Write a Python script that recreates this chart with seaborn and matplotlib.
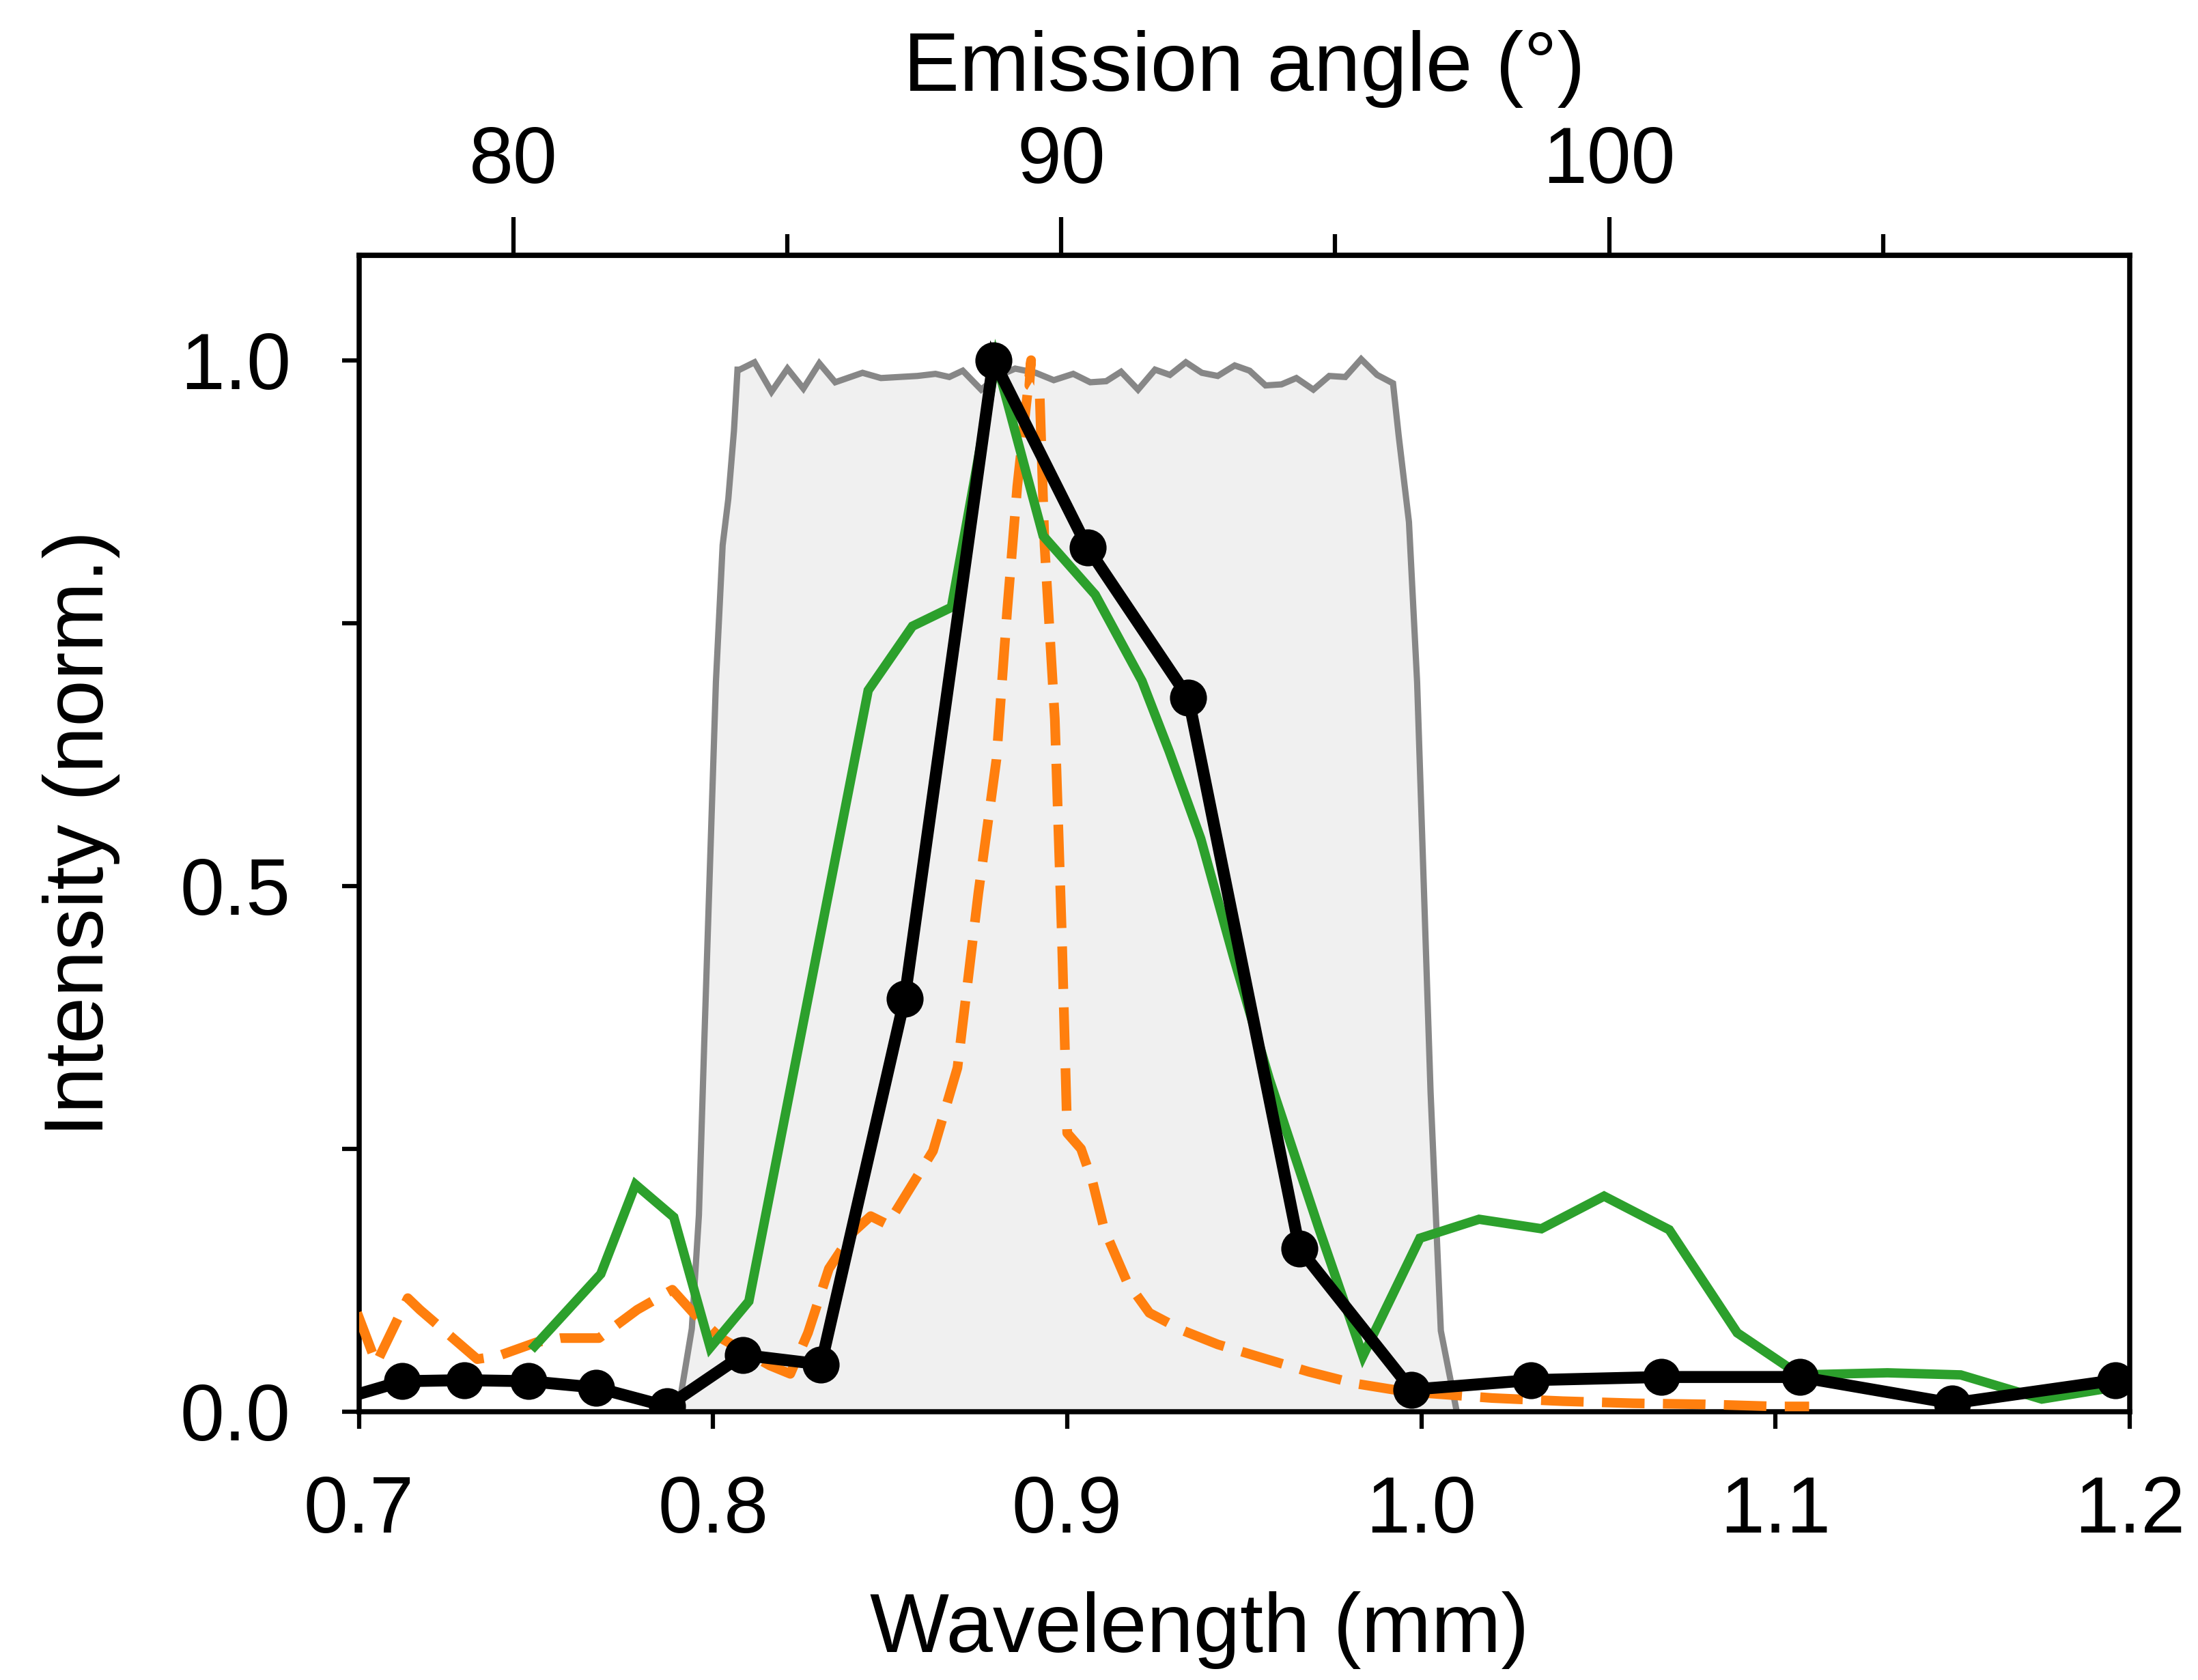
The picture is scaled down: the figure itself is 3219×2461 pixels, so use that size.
import matplotlib
matplotlib.use("Agg")
import matplotlib.pyplot as plt
import seaborn as sns
import numpy as np
import pandas as pd
from matplotlib.ticker import FixedLocator

# ---------------- data ----------------
# transmission band (grey shaded)
band_wl = [0.7900, 0.7908, 0.7940, 0.7960, 0.7975, 0.8008, 0.8027, 0.8043, 0.8059, 0.8069,
           0.8075, 0.8117, 0.8165, 0.8210, 0.8255, 0.8300, 0.8345, 0.8422, 0.8474, 0.8525,
           0.8577, 0.8628, 0.8667, 0.8705, 0.8757, 0.8805, 0.8853, 0.8911, 0.8962, 0.9017,
           0.9065, 0.9110, 0.9152, 0.9200, 0.9248, 0.9290, 0.9335, 0.9380, 0.9425, 0.9473,
           0.9515, 0.9560, 0.9605, 0.9647, 0.9695, 0.9740, 0.9785, 0.9830, 0.9875, 0.9920,
           0.9936, 0.9965, 0.9988, 1.0026, 1.0055, 1.0100]
band_int = [0.000, 0.014, 0.079, 0.187, 0.350, 0.694, 0.824, 0.868, 0.933, 0.991,
            0.991, 0.998, 0.970, 0.992, 0.973, 0.997, 0.979, 0.988, 0.983, 0.984,
            0.985, 0.987, 0.984, 0.990, 0.972, 0.985, 0.992, 0.988, 0.981, 0.987,
            0.979, 0.980, 0.989, 0.972, 0.991, 0.986, 0.998, 0.988, 0.985, 0.995,
            0.990, 0.976, 0.977, 0.983, 0.972, 0.985, 0.984, 1.001, 0.986, 0.978,
            0.928, 0.846, 0.694, 0.304, 0.077, 0.000]

# green solid curve
green_wl = [0.7487, 0.7683, 0.7781, 0.7889, 0.7992, 0.8101, 0.8438, 0.8563, 0.8673, 0.8799,
            0.8932, 0.9079, 0.9211, 0.9288, 0.9377, 0.9470, 0.9571, 0.9710, 0.9835, 0.9996,
            1.0163, 1.0339, 1.0516, 1.0700, 1.0892, 1.1068, 1.1316, 1.1523, 1.1752, 1.1953]
green_int = [0.059, 0.131, 0.216, 0.185, 0.061, 0.105, 0.686, 0.747, 0.765, 1.000,
             0.833, 0.777, 0.695, 0.628, 0.545, 0.432, 0.316, 0.175, 0.053, 0.165,
             0.183, 0.174, 0.205, 0.173, 0.075, 0.035, 0.037, 0.035, 0.012, 0.023]

# orange dashed curve
orange_wl = [0.6995, 0.7049, 0.7138, 0.7172, 0.7334, 0.7393, 0.7501, 0.7570, 0.7678, 0.7786,
             0.7885, 0.7944, 0.8022, 0.8160, 0.8218, 0.8268, 0.8327, 0.8396, 0.8445, 0.8493,
             0.8621, 0.8690, 0.8749, 0.8800, 0.8830, 0.8859, 0.8898, 0.8893, 0.8922, 0.8936,
             0.8965, 0.8985, 0.9000, 0.9039, 0.9072, 0.9104, 0.9168, 0.9232, 0.9328, 0.9425,
             0.9553, 0.9682, 0.9810, 0.9939, 1.0000, 1.0200, 1.0400, 1.0600, 1.0800, 1.1000,
             1.1095]
orange_int = [0.094, 0.046, 0.108, 0.097, 0.050, 0.053, 0.066, 0.070, 0.070, 0.097,
              0.116, 0.094, 0.070, 0.044, 0.036, 0.075, 0.136, 0.171, 0.186, 0.178,
              0.248, 0.327, 0.493, 0.620, 0.760, 0.880, 1.000, 0.976, 0.970, 0.824,
              0.659, 0.451, 0.265, 0.250, 0.218, 0.174, 0.124, 0.094, 0.077, 0.064,
              0.051, 0.038, 0.027, 0.020, 0.018, 0.013, 0.010, 0.008, 0.007, 0.005,
              0.005]

# black measured points
meas_wl = [0.6950, 0.7123, 0.7297, 0.7479, 0.7669, 0.7870, 0.8084, 0.8305, 0.8541, 0.8792,
           0.9057, 0.9342, 0.9656, 0.9972, 1.0309, 1.0678, 1.1069, 1.1499, 1.1960]
meas_int = [0.012, 0.029, 0.030, 0.029, 0.023, 0.005, 0.054, 0.045, 0.393, 1.000,
            0.822, 0.679, 0.155, 0.021, 0.030, 0.033, 0.033, 0.008, 0.030]

# axes
x_ticks = [0.7, 0.8, 0.9, 1.0, 1.1, 1.2]
x_ticklabels = ["0.7", "0.8", "0.9", "1.0", "1.1", "1.2"]
y_ticks = [0.0, 0.5, 1.0]
y_ticklabels = ["0.0", "0.5", "1.0"]
y_minor = [0.25, 0.75]
angle_ticks = [80, 90, 100]
angle_minor = [85, 95, 105]
LAMBDA_AT_90 = 0.8983     # mm at 90 deg
MM_PER_DEG = 0.015475

x_label = "Wavelength (mm)"
y_label = "Intensity (norm.)"
top_label = "Emission angle (°)"

# ---------------- style ----------------
sns.set_theme(style="ticks")
plt.rcParams["font.family"] = ["Liberation Sans", "DejaVu Sans"]
plt.rcParams["axes.linewidth"] = 1.8
plt.rcParams["lines.solid_capstyle"] = "butt"
plt.rcParams["lines.solid_joinstyle"] = "miter"

FS = 28
FS_LAB = 29.5

fig = plt.figure(figsize=(3219 / 300, 2461 / 300), dpi=300)
ax = fig.add_axes([0.1633, 0.1597, 0.9689 - 0.1633, 0.8482 - 0.1597])
ax.set_facecolor("white")

# shaded band
ax.fill_between(band_wl, band_int, 0, color="#f0f0f0", linewidth=0, zorder=1)
sns.lineplot(x=band_wl, y=band_int, ax=ax, color="#878787", linewidth=2.2, sort=False,
             estimator=None, zorder=2)

sns.lineplot(x=orange_wl, y=orange_int, ax=ax, color="#ff7f0e", linewidth=3.4, sort=False,
             estimator=None, zorder=3, linestyle=(0, (4.4, 1.9)))
sns.lineplot(x=green_wl, y=green_int, ax=ax, color="#2ca02c", linewidth=3.3, sort=False,
             estimator=None, zorder=4)
sns.lineplot(x=meas_wl, y=meas_int, ax=ax, color="black", linewidth=4.2, sort=False,
             estimator=None, zorder=5, marker="o", markersize=13, markeredgewidth=0)

ax.set_xlim(0.7, 1.2)
ax.set_ylim(0.0, 1.10)
ax.set_xticks(x_ticks)
ax.set_xticklabels(x_ticklabels)
ax.set_yticks(y_ticks)
ax.set_yticklabels(y_ticklabels)
ax.yaxis.set_minor_locator(FixedLocator(y_minor))

ax.tick_params(axis="x", which="major", direction="out", length=6, width=1.5,
               labelsize=FS, pad=16, top=False, colors="black")
ax.tick_params(axis="y", which="both", direction="out", length=6, width=1.5,
               labelsize=FS, pad=18, right=False, colors="black")
for s in ax.spines.values():
    s.set_visible(True)
    s.set_color("black")
    s.set_linewidth(1.8)

ax.set_xlabel(x_label, fontsize=FS_LAB, color="black")
ax.set_ylabel(y_label, fontsize=FS_LAB, color="black")
ax.xaxis.set_label_coords(0.4747, -0.155)
ax.yaxis.set_label_coords(-0.135, 0.5)

# top axis: emission angle
def wl_to_angle(w):
    return 90 + (np.asarray(w) - LAMBDA_AT_90) / MM_PER_DEG

def angle_to_wl(a):
    return LAMBDA_AT_90 + (np.asarray(a) - 90) * MM_PER_DEG

sec = ax.secondary_xaxis("top", functions=(wl_to_angle, angle_to_wl))
sec.set_xticks(angle_ticks)
sec.set_xticklabels([str(a) for a in angle_ticks])
sec.xaxis.set_minor_locator(FixedLocator(angle_minor))
sec.tick_params(axis="x", which="major", direction="out", length=13.5, width=1.5,
                labelsize=FS, pad=6, colors="black")
sec.tick_params(axis="x", which="minor", direction="out", length=7.5, width=1.5,
                colors="black")
sec.spines["top"].set_linewidth(1.8)
sec.set_xlabel(top_label, fontsize=FS_LAB, labelpad=12, color="black")

fig.savefig("out.png", dpi=300, facecolor="white")
